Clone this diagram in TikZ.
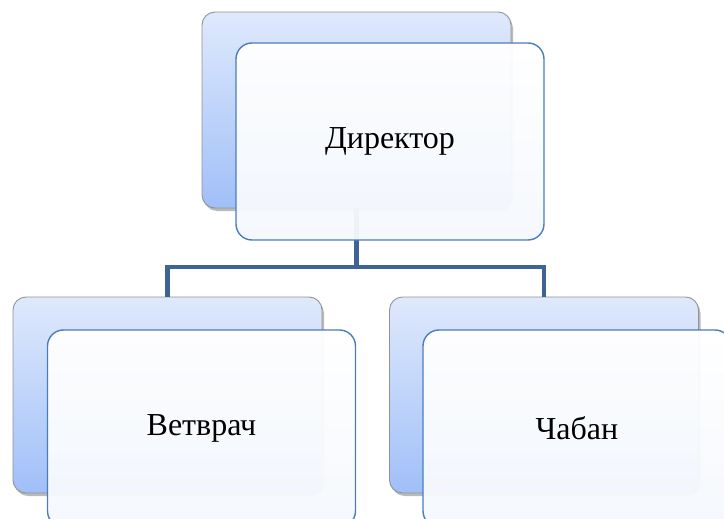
\documentclass[tikz,border=0pt]{standalone}
\usepackage{fontspec}
\setmainfont{Liberation Serif}
\usepackage{xcolor}
\usetikzlibrary{shadows}

\definecolor{backTop}{HTML}{DFE9FC}
\definecolor{backBottom}{HTML}{A0BFF8}
\definecolor{frontLine}{HTML}{4A7EBB}
\definecolor{frontBottom}{HTML}{F5F8FD}
\definecolor{connLine}{HTML}{3D6494}

\begin{document}
\begin{tikzpicture}[
    x=1pt, y=-1pt,
    backbox/.style={rectangle, rounded corners=13pt, draw=gray!85, line width=0.9pt,
      top color=backTop, bottom color=backBottom, minimum width=309pt, minimum height=196pt,
      outer sep=0pt, drop shadow={shadow xshift=2pt, shadow yshift=-3pt, fill=black!60, opacity=0.45}},
    frontbox/.style={rectangle, rounded corners=16pt, draw=frontLine, line width=1.4pt,
      top color=white, bottom color=frontBottom, fill opacity=0.96, text opacity=1,
      minimum width=308pt, minimum height=197pt, outer sep=0pt, align=center,
      font=\fontsize{32}{38}\selectfont},
    conn/.style={draw=connLine, line width=4.8pt}
  ]
  \clip (0,0) rectangle (724,519);

  % Back boxes
  \node[backbox] (dirBack) at (356.5,110) {};
  \node[backbox] (vetBack) at (167.5,395) {};
  \node[backbox] (shepBack) at (544,395) {};

  % Edges
  \draw[conn] (dirBack.south) -- ++(0,59) -| (vetBack.north);
  \draw[conn] (dirBack.south) -- ++(0,59) -| (shepBack.north);

  % Front boxes
  \node[frontbox] (dir) at (390,141.5) {Директор};
  \node[frontbox] (vet) at (201.5,428.5) {Ветврач};
  \node[frontbox] (shep) at (577,428.5) {Чабан};

\end{tikzpicture}
\end{document}
